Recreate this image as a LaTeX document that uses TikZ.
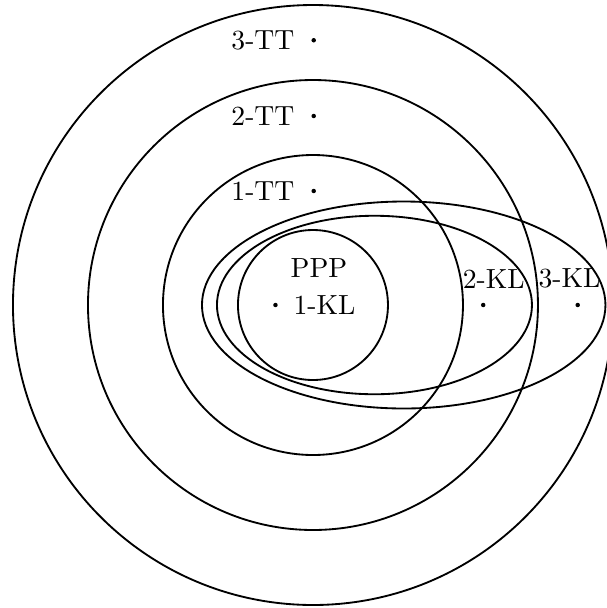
\documentclass[tikz,border=0pt]{standalone}
\begin{document}
\begin{tikzpicture}[
  ring/.style={line width=0.7pt},
  pt/.style={circle, fill=black, inner sep=0pt, minimum size=1.7pt},
  lbl/.style={inner sep=0pt, font=\fontsize{10.5}{12}\selectfont}
]
\useasboundingbox (-4.173,-4.04) rectangle (3.92,4.067);
\clip (-4.173,-4.04) rectangle (3.92,4.067);
% circles
\draw[ring] (0,0) circle (4);
\draw[ring] (0,0) circle (3);
\draw[ring] (0,0) circle (2);
\draw[ring] (0,0) circle (1);
% ellipses
\draw[ring] (0.82,0) ellipse [x radius=2.1, y radius=1.19];
\draw[ring] (1.21,0) ellipse [x radius=2.69, y radius=1.38];
% TT points
\node[pt] (t3) at (0.01,3.53) {};
\node[lbl, anchor=east] (t3l) at (-0.24,3.53) {3-TT};
\node[pt] (t2) at (0.01,2.52) {};
\node[lbl, anchor=east] (t2l) at (-0.24,2.52) {2-TT};
\node[pt] (t1) at (0.01,1.52) {};
\node[lbl, anchor=east] (t1l) at (-0.24,1.52) {1-TT};
% KL points
\node[pt] (k1) at (-0.5,0) {};
\node[lbl] (k1l) at (0.155,0) {1-KL};
\node[lbl] (ppp) at (0.08,0.49) {PPP};
\node[pt] (k2) at (2.27,0) {};
\node[lbl] (k2l) at (2.41,0.35) {2-KL};
\node[pt] (k3) at (3.53,0) {};
\node[lbl] (k3l) at (3.42,0.36) {3-KL};
\end{tikzpicture}
\end{document}
